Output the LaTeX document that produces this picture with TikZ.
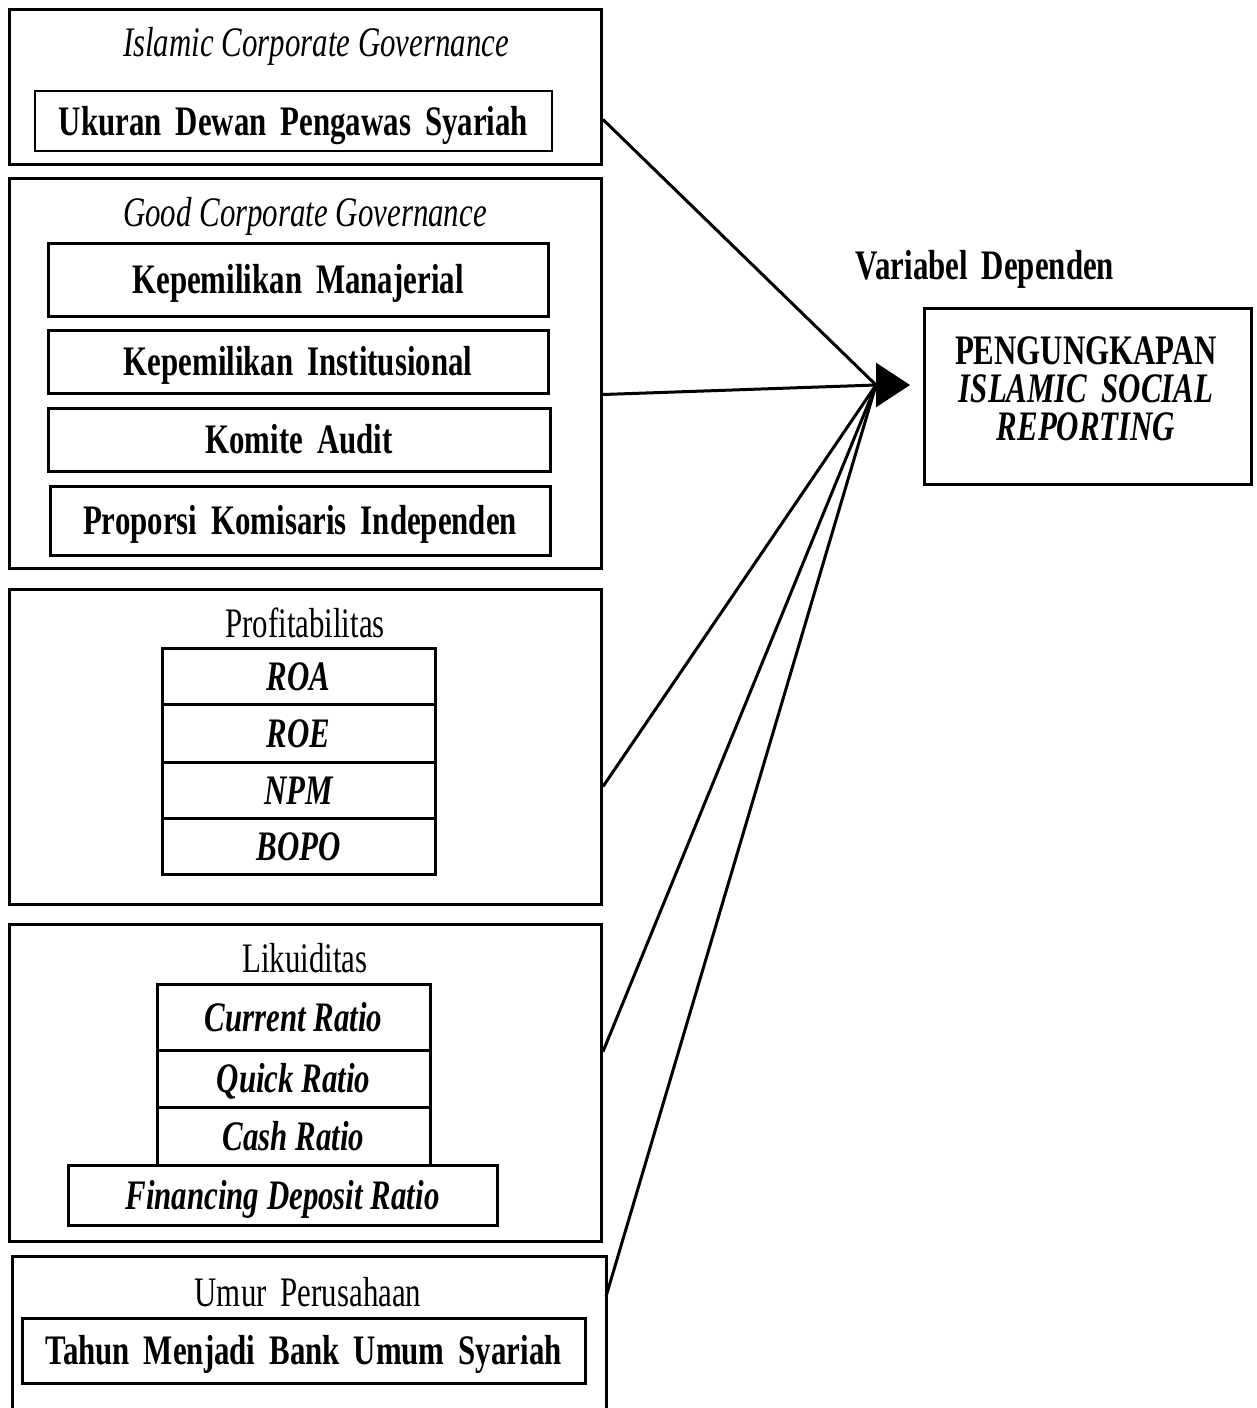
\documentclass[tikz,border=0pt]{standalone}
\usepackage{fontspec}
\setmainfont{Liberation Serif}[FakeStretch=0.735]
\usetikzlibrary{arrows.meta}
\newcommand\mysize{\fontsize{42}{40}\selectfont}
\begin{document}
\begin{tikzpicture}[x=1pt,y=-1pt,
  outer/.style={draw, line width=3pt, inner sep=0pt, anchor=north west},
  ibox/.style={draw, line width=3pt, inner sep=0pt, text height=28pt, text depth=0pt},
  bold/.style={font={\mysize\bfseries\spaceskip=14pt\relax}},
  bit/.style={font={\mysize\bfseries\itshape}},
  ttl/.style={inner sep=0pt, text height=28pt, text depth=0pt, font={\mysize\spaceskip=14pt\relax}},
  ittl/.style={inner sep=0pt, text height=28pt, text depth=0pt, font={\mysize\itshape}},
  conn/.style={line width=3pt}]
\useasboundingbox (0,0) rectangle (1256,1408);

% Islamic Corporate Governance
\node[outer, minimum width=592, minimum height=155] (icg) at (8,8) {};
\node[ittl] (icgt) at (316,42) {Islamic Corporate Governance};
\node[ibox, bold, line width=2.5pt, minimum width=517, minimum height=60] (uds) at (293.5,121) {Ukuran Dewan Pengawas Syariah};

% Good Corporate Governance
\node[outer, minimum width=592, minimum height=390] (gcg) at (8,177) {};
\node[ittl] (gcgt) at (305,212) {Good Corporate Governance};
\node[ibox, bold, minimum width=500, minimum height=73] (km) at (298,279.5) {Kepemilikan Manajerial};
\node[ibox, bold, minimum width=500, minimum height=63] (ki) at (298,361.5) {Kepemilikan Institusional};
\node[ibox, bold, minimum width=502, minimum height=63] (ka) at (299,439.5) {Komite Audit};
\node[ibox, bold, minimum width=500, minimum height=69] (pki) at (300,520.5) {Proporsi Komisaris Independen};

% Profitabilitas
\node[outer, minimum width=592, minimum height=315] (prof) at (8,588) {};
\node[ttl] (proft) at (305,623) {Profitabilitas};
\node[ibox, bit, minimum width=273, minimum height=56] (roa) at (298.5,676) {ROA};
\node[ibox, bit, minimum width=273, minimum height=58] (roe) at (298.5,733) {ROE};
\node[ibox, bit, minimum width=273, minimum height=56] (npm) at (298.5,790) {NPM};
\node[ibox, bit, minimum width=273, minimum height=56] (bopo) at (298.5,846) {BOPO};

% Likuiditas
\node[outer, minimum width=592, minimum height=317] (liq) at (8,923) {};
\node[ttl] (liqt) at (305,958) {Likuiditas};
\node[ibox, bit, minimum width=273, minimum height=66] (cr) at (293.5,1017) {Current Ratio};
\node[ibox, bit, minimum width=273, minimum height=57] (qr) at (293.5,1078.5) {Quick Ratio};
\node[ibox, bit, minimum width=273, minimum height=58] (car) at (293.5,1136) {Cash Ratio};
\node[ibox, bit, fill=white, minimum width=429, minimum height=60] (fdr) at (282.5,1195) {Financing Deposit Ratio};

% Umur Perusahaan
\node[outer, draw=none, minimum width=591, minimum height=156] (umur) at (12,1256) {};
\draw[line width=3pt] (umur.south west) -- (umur.north west) -- (umur.north east) -- (umur.south east);
\node[ttl] (umurt) at (308,1292) {Umur Perusahaan};
\node[ibox, bold, minimum width=563, minimum height=65] (tmb) at (303.5,1350.5) {Tahun Menjadi Bank Umum Syariah};

% Dependent variable
\node[inner sep=0pt, text height=28pt, text depth=0pt, bold] (vd) at (985,265) {Variabel Dependen};
\node[outer, line width=2.5pt, minimum width=327, minimum height=176] (isr) at (923,307) {};
\node[inner sep=0pt, align=center, font={\mysize\bfseries\spaceskip=14pt\relax}] (isrt) at (1086,389)
  {PENGUNGKAPAN\\[-2pt] \itshape ISLAMIC SOCIAL\\[-2pt] \itshape REPORTING};

% connectors
\coordinate (hub) at (876,385);
\coordinate (tip) at (910,385);
\draw[conn] ([yshift=-32.5pt]icg.east) -- (hub);
\draw[conn] ([yshift=-21pt]gcg.east) -- (hub);
\draw[conn] ([yshift=-39.5pt]prof.east) -- (hub);
\draw[conn] ([yshift=31.5pt]liq.east) -- (hub);
\draw[conn] ([yshift=39pt]umur.east) -- (hub);
\draw[line width=3pt, -{Triangle[length=34pt,width=44pt]}] ([xshift=-2pt]hub) -- (tip);
\end{tikzpicture}
\end{document}
